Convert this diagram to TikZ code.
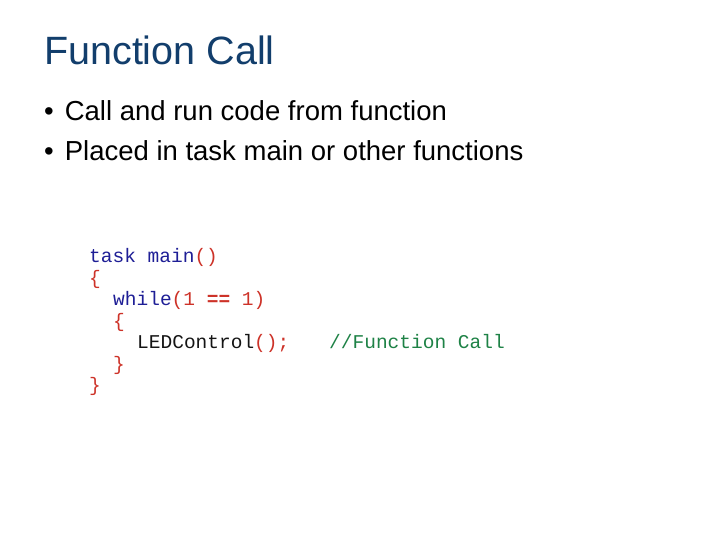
\documentclass[tikz,border=0pt]{standalone}
\usepackage{fontspec}
\setmainfont{Liberation Sans}
\newfontfamily\codefont{Liberation Mono}
\definecolor{titleblue}{RGB}{18,62,108}
\definecolor{kw}{RGB}{30,30,150}
\definecolor{pn}{RGB}{205,50,40}
\definecolor{cm}{RGB}{30,130,70}
\definecolor{tx}{RGB}{20,20,20}
\begin{document}
\begin{tikzpicture}[x=1pt,y=-1pt,
  txt/.style={anchor=base west,inner sep=0pt},
  code/.style={txt,font=\codefont\fontsize{19.5}{20}\selectfont}]
\useasboundingbox (0,0) rectangle (720,540);
\fill[white] (0,0) rectangle (720,540);
\node[txt,text=titleblue,font=\fontsize{39.5}{44}\selectfont] (title) at (44,65) {Function Call};
\node[txt,font=\fontsize{27.5}{32}\selectfont] (b1) at (44,121) {\textbullet\hspace{11pt}Call and run code from function};
\node[txt,font=\fontsize{27.5}{32}\selectfont] (b2) at (44,161) {\textbullet\hspace{11pt}Placed in task main or other functions};
\node[code] (c1) at (89,262) {\textcolor{kw}{task main}\textcolor{pn}{()}};
\node[code] (c2) at (89,284) {\textcolor{pn}{\{}};
\node[code] (c3) at (113,305) {\textcolor{kw}{while}\textcolor{pn}{(1 \textbf{==} 1)}};
\node[code] (c4) at (113,327) {\textcolor{pn}{\{}};
\node[code] (c5) at (137,348) {\textcolor{tx}{LEDControl}\textcolor{pn}{();}};
\node[code] (c6) at (329,348) {\textcolor{cm}{//Function Call}};
\node[code] (c7) at (113,370) {\textcolor{pn}{\}}};
\node[code] (c8) at (89,391) {\textcolor{pn}{\}}};
\end{tikzpicture}
\end{document}
